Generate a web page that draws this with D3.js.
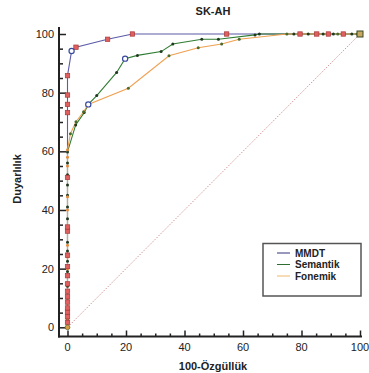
<!DOCTYPE html>
<html>
<head>
<meta charset="utf-8">
<script src="https://cdnjs.cloudflare.com/ajax/libs/d3/7.8.5/d3.min.js"></script>
<style>
  body { margin: 0; background: #fff; }
  svg { font-family: "Liberation Sans", Arial, sans-serif; }
</style>
</head>
<body>
<svg id="chart" width="369" height="373"></svg>
<script>
// ROC curves, values (100-specificity, sensitivity)
const mmdtFpr = [0, 0, 0, 0, 0, 0, 0, 0, 0, 0, 0, 0, 0, 0, 0, 0, 0, 0, 0, 1.4, 2.9, 13.7, 22.2, 54.4, 79.5, 85.2, 89.2, 94.3, 100];
const mmdtTpr = [0, 1.7, 3.6, 5.2, 6.6, 8.6, 10.4, 12.3, 14.8, 17.6, 20.7, 24.6, 32.8, 34.2, 51.1, 73.2, 76, 79.2, 85.8, 94.2, 95.5, 98.2, 100, 100, 100, 100, 100, 100, 100];
const semFpr = [0, 0, 0, 0, 0, 0, 0, 0, 0, 0, 0, 0, 0, 0, 0, 0, 0, 2.8, 5.7, 7.1, 10, 16.8, 19.7, 23.9, 32, 36, 45.9, 51.6, 64.1, 65.6, 77.4, 82.3, 87.4, 90.9, 97.2, 100];
const semTpr = [0, 2.5, 5.5, 10, 14, 19, 22.5, 26, 29, 33, 37, 41, 45, 48.5, 52, 56, 59.8, 69, 73.2, 76, 79, 86.9, 91.6, 92.7, 94, 96.6, 98.2, 98.2, 99.7, 100, 100, 100, 100, 100, 100, 100];
const fonFpr = [0, 0, 0, 0, 0, 0, 0, 0, 0, 0, 0, 0, 0, 0, 0, 0, 1, 2.9, 5.5, 7.1, 20.8, 34.7, 44.7, 52.7, 58.7, 75, 92.4, 99, 100];
const fonTpr = [0, 3, 7, 9, 12, 15, 20, 24, 28, 34, 40, 44.5, 51, 55, 58, 60.5, 66, 70.1, 73.5, 76, 81.5, 92.6, 95.3, 96.6, 98.2, 100, 100, 100, 100];
// optimal cut-off points (open circles)
const cutFpr = [1.4, 19.7, 7.1];
const cutTpr = [94.2, 91.6, 76];

const seriesNames = ["MMDT", "Semantik", "Fonemik"];
const seriesColors = ["#5b5ba8", "#2f7d32", "#f0a050"];
const legendColors = ["#33337a", "#2f6e30", "#f0b870"];
const xTicks = [0, 20, 40, 60, 80, 100];
const yTicks = [0, 20, 40, 60, 80, 100];

const svg = d3.select('#chart');
const x = d3.scaleLinear().domain([0, 100]).range([67.5, 360]);
const y = d3.scaleLinear().domain([0, 100]).range([327.3, 34]);

function zip(a, b) { return a.map((v, i) => [v, b[i]]); }
const line = d3.line().x(d => x(d[0])).y(d => y(d[1]));

// title and axis labels
svg.append('text').attr('x', 213).attr('y', 15).attr('text-anchor', 'middle')
  .attr('font-size', 11).attr('font-weight', 'bold').attr('fill', '#222').text('SK-AH');
svg.append('text').attr('x', 213).attr('y', 370).attr('text-anchor', 'middle')
  .attr('font-size', 11).attr('font-weight', 'bold').attr('fill', '#222').text('100-Özgüllük');
svg.append('text').attr('transform', 'translate(21,179) rotate(-90)').attr('text-anchor', 'middle')
  .attr('font-size', 11).attr('font-weight', 'bold').attr('fill', '#222').text('Duyarlılık');

// axes (ticks point inwards, axis lines offset from data area)
const xAxis = svg.append('g').attr('transform', 'translate(0,336.5)')
  .call(d3.axisTop(x).tickValues(d3.range(0, 101, 5)).tickSize(4).tickFormat(''));
xAxis.selectAll('.tick line').attr('y2', d => d % 20 === 0 ? -6 : -3).attr('stroke', '#222').attr('stroke-width', 1.5);
xAxis.select('.domain').remove();
svg.append('line').attr('x1', 58).attr('x2', 362).attr('y1', 336.5).attr('y2', 336.5).attr('stroke', '#222').attr('stroke-width', 2);
svg.append('g').selectAll('text').data(xTicks).enter().append('text')
  .attr('x', d => x(d)).attr('y', 351).attr('text-anchor', 'middle')
  .attr('font-size', 11).attr('fill', '#222').text(d => d);

const yAxis = svg.append('g').attr('transform', 'translate(59,0)')
  .call(d3.axisRight(y).tickValues(d3.range(0, 101, 5)).tickSize(4).tickFormat(''));
yAxis.selectAll('.tick line').attr('x2', d => d % 20 === 0 ? 7 : 4).attr('stroke', '#222').attr('stroke-width', 1.5);
yAxis.select('.domain').remove();
svg.append('line').attr('x1', 59).attr('x2', 59).attr('y1', 337.5).attr('y2', 27).attr('stroke', '#222').attr('stroke-width', 2);
svg.append('g').selectAll('text').data(yTicks).enter().append('text')
  .attr('x', 54).attr('y', d => y(d) + 4).attr('text-anchor', 'end')
  .attr('font-size', 11).attr('fill', '#222').text(d => d);

// diagonal reference
svg.append('path').datum([[0, 0], [100, 100]]).attr('d', line)
  .attr('fill', 'none').attr('stroke', '#c87878').attr('stroke-width', 0.8).attr('stroke-dasharray', '1.5,1.5');

const mmdt = zip(mmdtFpr, mmdtTpr);
const sem = zip(semFpr, semTpr);
const fon = zip(fonFpr, fonTpr);

[mmdt, sem, fon].forEach((pts, i) => {
  svg.append('path').datum(pts).attr('d', line)
    .attr('fill', 'none').attr('stroke', seriesColors[i]).attr('stroke-width', 1.1);
});

// markers
svg.append('g').selectAll('circle').data(sem.filter(d => d[0] !== 100)).enter().append('circle')
  .attr('cx', d => x(d[0])).attr('cy', d => y(d[1])).attr('r', 1.5).attr('fill', '#1f3a1f');
svg.append('g').selectAll('circle').data(fon.filter(d => d[0] !== 100)).enter().append('circle')
  .attr('cx', d => x(d[0])).attr('cy', d => y(d[1])).attr('r', 1.5)
  .attr('fill', d => d[0] === 0 ? '#e88a3a' : '#4a6a2a');
svg.append('g').selectAll('rect').data(mmdt.filter(d => !(d[0] === 0 && d[1] === 0) && d[0] !== 100 && !cutFpr.includes(d[0]))).enter().append('rect')
  .attr('x', d => x(d[0]) - 2.2).attr('y', d => y(d[1]) - 2.2).attr('width', 4.4).attr('height', 4.4)
  .attr('fill', '#e06060').attr('stroke', '#a83838').attr('stroke-width', 0.7);
svg.append('g').selectAll('circle').data(cutFpr).enter().append('circle')
  .attr('cx', d => x(d)).attr('cy', (d, i) => y(cutTpr[i])).attr('r', 2.6)
  .attr('fill', '#fff').attr('stroke', '#3a4aa0').attr('stroke-width', 1.2);

// origin and end markers
svg.append('circle').attr('cx', x(0)).attr('cy', y(0)).attr('r', 2.4)
  .attr('fill', '#d8a040').attr('stroke', '#6a6a30').attr('stroke-width', 0.8);
svg.append('rect').attr('x', x(100) - 3).attr('y', y(100) - 3).attr('width', 6).attr('height', 6)
  .attr('fill', '#c8a860').attr('stroke', '#3a4a2a').attr('stroke-width', 1);

// legend
const lg = svg.append('g');
lg.append('rect').attr('x', 263).attr('y', 243.5).attr('width', 98).attr('height', 52.5)
  .attr('fill', '#fff').attr('stroke', '#555').attr('stroke-width', 1.5);
seriesNames.forEach((name, i) => {
  const ly = 253 + i * 11.5;
  lg.append('line').attr('x1', 277).attr('x2', 290).attr('y1', ly).attr('y2', ly)
    .attr('stroke', legendColors[i]).attr('stroke-width', 1);
  lg.append('text').attr('x', 295).attr('y', ly + 3.5).attr('font-size', 10)
    .attr('font-weight', 'bold').attr('fill', '#222').text(name);
});
</script>
</body>
</html>
